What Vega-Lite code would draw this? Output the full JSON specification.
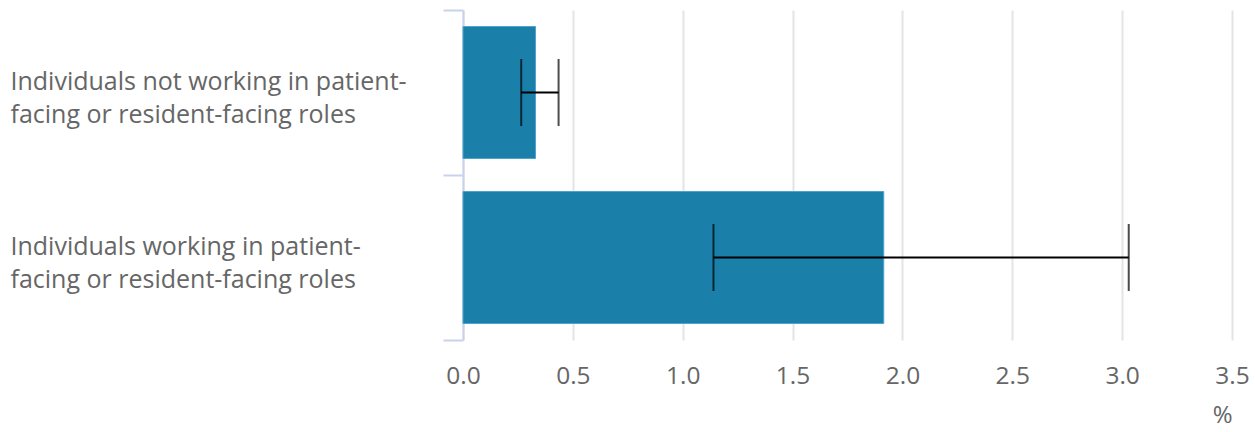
{
  "$schema": "https://vega.github.io/schema/vega-lite/v6.json",
  "width": 769,
  "height": 330,
  "autosize": {"type": "none"},
  "padding": {"left": 463, "top": 10, "right": 23, "bottom": 92},
  "background": "white",
  "config": {
    "view": {"stroke": null},
    "font": "Open Sans",
    "axis": {"labelFont": "Open Sans", "titleFont": "Open Sans"}
  },
  "data": {
    "values": [
      {"group": "Individuals not working in patient-facing or resident-facing roles", "value": 0.33, "low": 0.265, "high": 0.435},
      {"group": "Individuals working in patient-facing or resident-facing roles", "value": 1.915, "low": 1.14, "high": 3.03}
    ]
  },
  "encoding": {
    "y": {
      "field": "group",
      "type": "nominal",
      "sort": null,
      "scale": {"paddingInner": 0, "paddingOuter": 0},
      "axis": {
        "title": null,
        "domainColor": "#c8d2ea",
        "domainWidth": 2,
        "tickColor": "#c8d2ea",
        "tickWidth": 2,
        "tickSize": 20,
        "tickBand": "extent",
        "labelAlign": "left",
        "labelPadding": 433,
        "labelOffset": -11,
        "labelFontSize": 25,
        "labelColor": "#666666",
        "labelLineHeight": 33,
        "labelLimit": 0,
        "labelExpr": "datum.value ? split(replace(datum.value, 'patient-facing', 'patient-|facing'), '|') : ''"
      }
    }
  },
  "layer": [
    {
      "mark": {"type": "bar", "color": "#1a80aa", "stroke": "#4fa3cc", "strokeWidth": 1, "height": {"band": 0.8}},
      "encoding": {
        "x": {
          "field": "value",
          "type": "quantitative",
          "scale": {"domain": [0, 3.5], "nice": false},
          "axis": {
            "title": "%",
            "values": [0, 0.5, 1, 1.5, 2, 2.5, 3, 3.5],
            "format": ".1f",
            "domain": false,
            "ticks": false,
            "grid": true,
            "gridColor": "#e4e4e4",
            "gridWidth": 2,
            "labelFlush": false,
            "labelFontSize": 24.5,
            "labelColor": "#666666",
            "labelPadding": 24,
            "titleFontSize": 24,
            "titleFontWeight": "normal",
            "titleColor": "#666666",
            "titleAnchor": "end",
            "titlePadding": 16
          }
        }
      }
    },
    {
      "mark": {"type": "rule", "color": "black", "strokeWidth": 2},
      "encoding": {
        "x": {"field": "low", "type": "quantitative"},
        "x2": {"field": "high"}
      }
    },
    {
      "mark": {"type": "tick", "color": "black", "thickness": 2, "size": 67},
      "encoding": {"x": {"field": "low", "type": "quantitative"}}
    },
    {
      "mark": {"type": "tick", "color": "black", "thickness": 2, "size": 67},
      "encoding": {"x": {"field": "high", "type": "quantitative"}}
    }
  ]
}
